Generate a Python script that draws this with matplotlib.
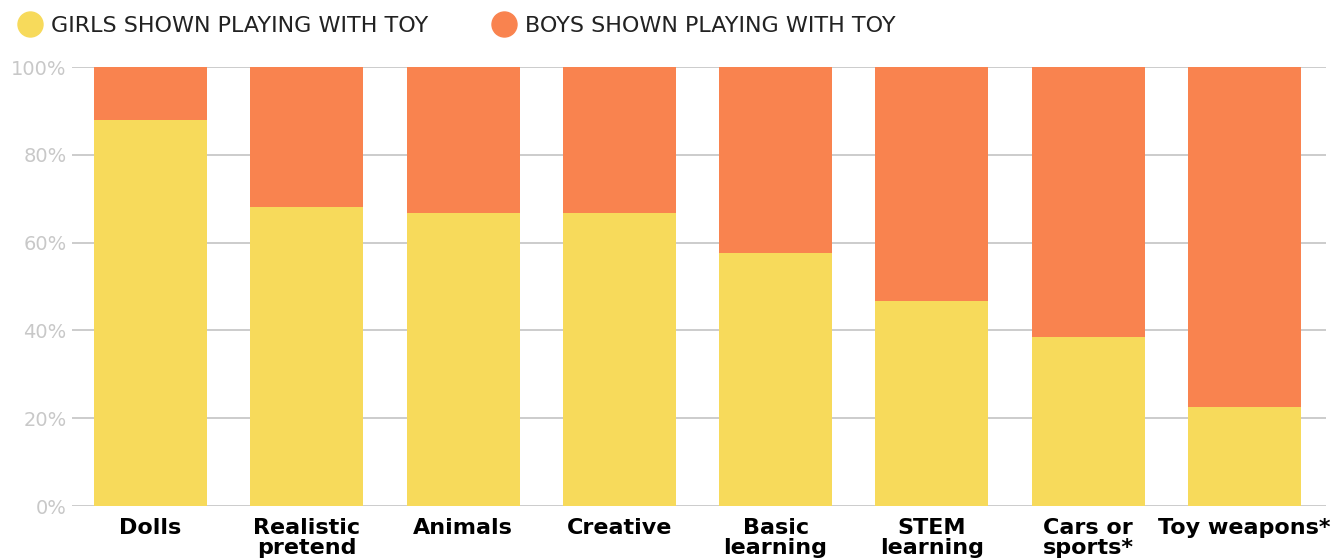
import numpy as np
import matplotlib
matplotlib.use("Agg")
import matplotlib.pyplot as plt
from matplotlib.lines import Line2D

# --- data ---
categories = ["Dolls", "Realistic\npretend", "Animals", "Creative",
              "Basic\nlearning", "STEM\nlearning", "Cars or\nsports*", "Toy weapons*"]
girls_pct = [88, 68, 66.7, 66.7, 57.6, 46.7, 38.5, 22.6]
boys_pct = [100 - g for g in girls_pct]
y_ticks = [0, 20, 40, 60, 80, 100]
legend_labels = ["GIRLS SHOWN PLAYING WITH TOY", "BOYS SHOWN PLAYING WITH TOY"]

YELLOW = "#F7DA5B"
ORANGE = "#F9834F"
GRID = "#C8C8C8"

plt.rcParams['font.family'] = ['DejaVu Sans']

fig = plt.figure(figsize=(13.42, 5.6), dpi=100)
ax = fig.add_axes([72 / 1342, 1 - 506 / 560, (1326 - 72) / 1342, (506 - 67) / 560])

x = np.arange(len(categories))
ax.bar(x, girls_pct, width=0.723, color=YELLOW, zorder=2)
ax.bar(x, boys_pct, bottom=girls_pct, width=0.723, color=ORANGE, zorder=2)

ax.set_xlim(-0.502, 7.522)
ax.set_ylim(0, 100)
ax.set_yticks(y_ticks)
ax.set_yticklabels([f"{t}%" for t in y_ticks], color="#C8C8C8", fontsize=14)
ax.yaxis.grid(True, color=GRID, linewidth=1.3, zorder=0)
ax.set_xticks(x)
ax.set_xticklabels(categories, fontsize=16, fontweight="bold", color="black",
                   linespacing=1.0, va="top")
ax.tick_params(axis="both", length=0)
ax.tick_params(axis="x", pad=9)
ax.tick_params(axis="y", pad=4)
for s in ax.spines.values():
    s.set_visible(False)

# legend along the top
handles = [Line2D([], [], marker="o", linestyle="", markersize=18, color=c)
           for c in (YELLOW, ORANGE)]
fig.legend(handles, legend_labels, loc="upper left", bbox_to_anchor=(0.001, 0.993),
           ncol=2, frameon=False, fontsize=16, handletextpad=0.2,
           columnspacing=2.65, borderaxespad=0.15, handlelength=1.5,
           labelcolor="#222222")

fig.savefig("out.png", dpi=100)
